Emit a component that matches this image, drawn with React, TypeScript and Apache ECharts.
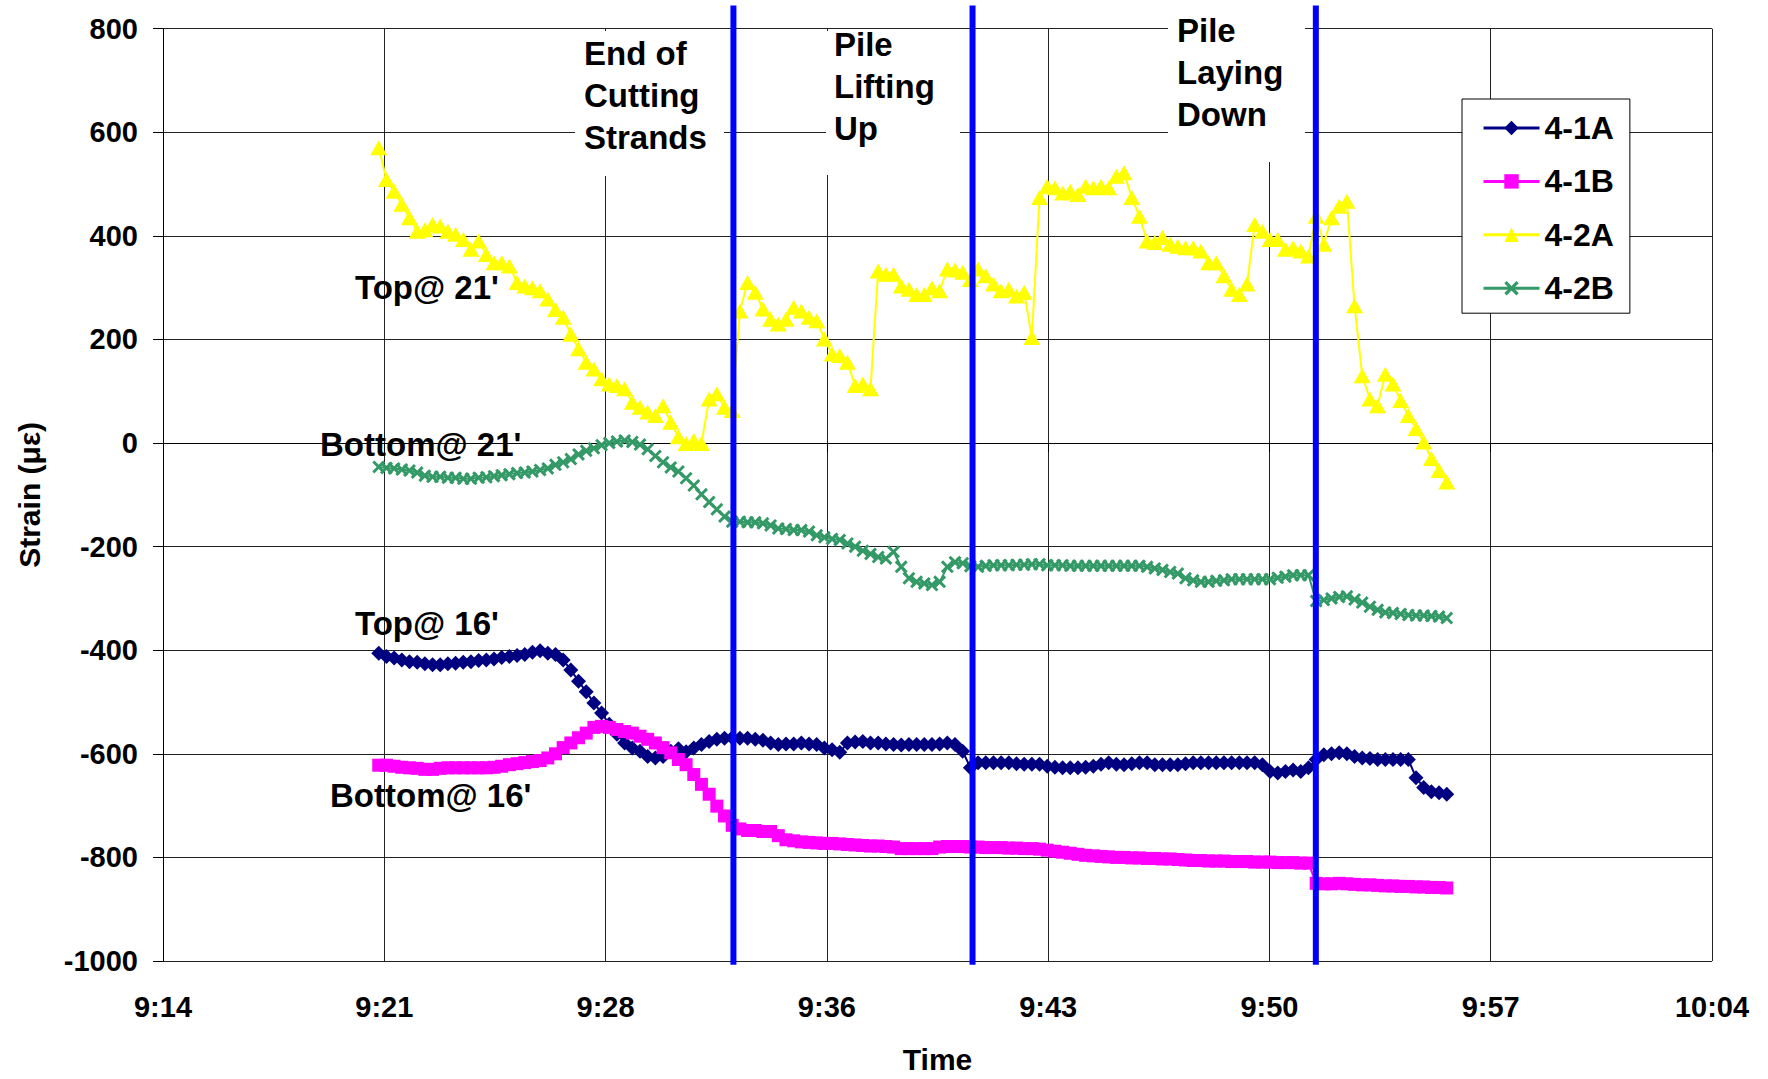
import React, { useEffect, useRef } from "react";
import * as echarts from "echarts";

// Sampling: one reading every 15 s, first reading at about 9:21:25
const START_MIN = 561.42; // minutes after midnight
const STEP_MIN = 0.25;

const seriesNames = ["4-1A", "4-1B", "4-2A", "4-2B"];

// 4-1A  (Top @ 16')
const s41A = [
  -406, -412, -415, -419, -422, -423, -426, -428, -428, -426,
  -425, -423, -422, -420, -419, -417, -414, -412, -410, -408,
  -404, -401, -406, -408, -419, -438, -460, -480, -502, -521,
  -543, -562, -579, -589, -595, -605, -608, -605, -595, -590,
  -596, -589, -582, -576, -572, -570, -569, -570, -570, -572,
  -574, -579, -582, -581, -581, -579, -581, -582, -589, -592,
  -597, -579, -577, -576, -579, -579, -581, -582, -583, -582,
  -582, -582, -582, -581, -579, -582, -595, -627, -617, -617,
  -617, -617, -617, -619, -620, -620, -620, -624, -626, -627,
  -627, -627, -626, -624, -620, -617, -620, -621, -619, -617,
  -617, -621, -621, -621, -621, -619, -617, -617, -617, -617,
  -617, -617, -617, -617, -617, -621, -634, -637, -634, -631,
  -634, -627, -611, -602, -600, -598, -600, -605, -608, -609,
  -611, -611, -611, -611, -611, -646, -665, -673, -675, -678,
];

// 4-1B  (Bottom @ 16')
const s41B = [
  -622, -622, -624, -626, -627, -628, -630, -630, -628, -627,
  -627, -627, -627, -627, -627, -626, -624, -621, -619, -617,
  -615, -613, -608, -600, -588, -579, -569, -560, -549, -547,
  -549, -553, -557, -560, -566, -572, -579, -588, -598, -611,
  -621, -640, -659, -678, -701, -720, -738, -745, -748, -748,
  -750, -750, -758, -766, -768, -770, -771, -772, -773, -773,
  -774, -775, -776, -777, -778, -778, -779, -780, -783, -783,
  -783, -783, -783, -780, -779, -779, -779, -780, -780, -781,
  -781, -781, -782, -782, -783, -783, -784, -786, -788, -790,
  -792, -794, -796, -797, -798, -799, -800, -800, -801, -801,
  -802, -802, -803, -803, -804, -805, -806, -806, -807, -807,
  -807, -808, -808, -808, -809, -809, -809, -810, -810, -810,
  -811, -811, -850, -851, -851, -850, -851, -852, -853, -853,
  -854, -855, -855, -856, -856, -857, -857, -858, -858, -859,
];

// 4-2A  (Top @ 21')
const s42A = [
  570, 509, 486, 461, 435, 409, 412, 422, 419, 409,
  403, 393, 374, 390, 364, 348, 348, 342, 310, 303,
  300, 294, 278, 258, 243, 210, 182, 156, 143, 124,
  114, 111, 105, 79, 69, 60, 53, 72, 40, 12,
  -1, 5, -1, 85, 95, 69, 63, 255, 310, 291,
  259, 239, 230, 239, 262, 255, 243, 236, 201, 172,
  169, 156, 111, 114, 105, 332, 326, 326, 303, 297,
  287, 287, 300, 294, 336, 334, 330, 316, 336, 323,
  307, 294, 297, 284, 291, 204, 474, 496, 493, 483,
  486, 480, 496, 493, 496, 493, 515, 522, 474, 438,
  390, 387, 397, 384, 380, 377, 377, 371, 348, 348,
  323, 297, 287, 307, 422, 409, 393, 393, 374, 377,
  371, 361, 438, 384, 435, 457, 467, 265, 130, 85,
  72, 133, 114, 82, 53, 28, 2, -30, -53, -75,
];

// 4-2B  (Bottom @ 21')
const s42B = [
  -46, -48, -49, -51, -53, -57, -63, -65, -65, -67,
  -67, -69, -69, -67, -66, -64, -62, -60, -58, -57,
  -55, -52, -49, -42, -37, -31, -22, -15, -10, -4,
  0, 3, 5, 2, -3, -12, -25, -37, -47, -55,
  -68, -82, -99, -114, -128, -142, -152, -152, -153, -153,
  -155, -159, -165, -166, -168, -168, -171, -178, -182, -185,
  -187, -194, -200, -208, -214, -220, -223, -210, -239, -261,
  -268, -271, -274, -268, -239, -230, -232, -238, -239, -237,
  -236, -236, -236, -235, -235, -234, -234, -236, -236, -236,
  -237, -237, -237, -237, -237, -237, -237, -237, -237, -237,
  -239, -242, -245, -249, -252, -261, -265, -268, -268, -266,
  -265, -263, -263, -263, -263, -263, -263, -260, -258, -255,
  -255, -255, -305, -303, -300, -297, -296, -302, -308, -316,
  -322, -327, -328, -330, -332, -333, -333, -334, -335, -338,
];

// Event markers (minutes after midnight)
const eventTimes = [572.96, 580.74, 591.91];

// Axis scale
const X_MIN = 554.4;
const X_MAX = 604.8;
const X_INTERVAL = 7.2;
const Y_MIN = -1000;
const Y_MAX = 800;
const Y_INTERVAL = 200;

const FONT = '"Liberation Sans", Arial, Helvetica, sans-serif';

const X_SYMBOL =
  "path://M0,1.6 L1.6,0 L5,3.4 L8.4,0 L10,1.6 L6.6,5 L10,8.4 L8.4,10 L5,6.6 L1.6,10 L0,8.4 L3.4,5 Z";

function fmtTime(v: number): string {
  const t = Math.floor(v + 1e-6);
  const h = Math.floor(t / 60);
  const m = t % 60;
  return `${h}:${m < 10 ? "0" + m : m}`;
}

function pairs(values: number[]): number[][] {
  return values.map((v, i) => [START_MIN + i * STEP_MIN, v]);
}

export default function App() {
  const ref = useRef<HTMLDivElement>(null);

  useEffect(() => {
    if (!ref.current) return;
    const chart = echarts.init(ref.current, null, { renderer: "svg" });

    const seriesStyles = [
      { color: "#000080", symbol: "diamond", size: [15, 15] },
      { color: "#FF00FF", symbol: "rect", size: [13, 13] },
      { color: "#FFFF00", symbol: "triangle", size: [17, 15] },
      { color: "#339966", symbol: X_SYMBOL, size: [13, 13] },
    ];
    const values = [s41A, s41B, s42A, s42B];

    const dataSeries = seriesNames.map((name, k) => ({
      name,
      type: "line",
      data: pairs(values[k]),
      symbol: seriesStyles[k].symbol,
      symbolSize: seriesStyles[k].size,
      showAllSymbol: true,
      lineStyle: { color: seriesStyles[k].color, width: 2 },
      itemStyle: { color: seriesStyles[k].color, borderWidth: 0 },
      z: 2 + k,
      emphasis: { disabled: true },
    }));

    const eventSeries = eventTimes.map((t, k) => ({
      name: "event" + k,
      type: "line",
      data: [
        [t, 845],
        [t, -1007],
      ],
      clip: false,
      symbol: "none",
      lineStyle: { color: "#0000FF", width: 6 },
      z: 10,
      silent: true,
    }));

    const textFont = `bold 33px ${FONT}`;

    const option: any = {
      animation: false,
      backgroundColor: "#ffffff",
      grid: { left: 163, top: 28.7, right: 56, bottom: 114.7, containLabel: false },
      xAxis: {
        type: "value",
        min: X_MIN,
        max: X_MAX,
        interval: X_INTERVAL,
        name: "Time",
        nameLocation: "middle",
        nameGap: 83,
        nameTextStyle: { fontSize: 30, fontWeight: "bold", fontFamily: FONT, color: "#000" },
        axisLine: { lineStyle: { color: "#000", width: 1 } },
        axisTick: { show: true, inside: false, length: 9, lineStyle: { color: "#000" } },
        axisLabel: {
          formatter: fmtTime,
          fontSize: 29,
          fontWeight: "bold",
          fontFamily: FONT,
          color: "#000",
          margin: 31,
          showMinLabel: true,
          showMaxLabel: true,
        },
        splitLine: { show: true, lineStyle: { color: "#222", width: 1 } },
      },
      yAxis: {
        type: "value",
        min: Y_MIN,
        max: Y_MAX,
        interval: Y_INTERVAL,
        name: "Strain (με)",
        nameLocation: "middle",
        nameGap: 119,
        nameTextStyle: { fontSize: 30, fontWeight: "bold", fontFamily: FONT, color: "#000" },
        axisLine: { show: true, lineStyle: { color: "#000", width: 1 } },
        axisTick: { show: true, inside: false, length: 10, lineStyle: { color: "#000" } },
        axisLabel: {
          formatter: (v: number) => String(Math.round(v)),
          fontSize: 29,
          fontWeight: "bold",
          fontFamily: FONT,
          color: "#000",
          margin: 25,
        },
        splitLine: { show: true, lineStyle: { color: "#222", width: 1 } },
      },
      legend: {
        data: seriesNames,
        orient: "vertical",
        left: 1462,
        top: 99,
        padding: [13, 16, 9, 20],
        itemGap: 21.4,
        itemWidth: 56,
        itemHeight: 18,
        backgroundColor: "#ffffff",
        borderColor: "#000",
        borderWidth: 1,
        borderRadius: 0,
        textStyle: {
          fontSize: 32,
          fontWeight: "bold",
          fontFamily: FONT,
          color: "#000",
          lineHeight: 32,
        },
        lineStyle: { width: 3 },
        z: 20,
      },
      graphic: [
        { type: "rect", shape: { x: 575, y: 31, width: 149, height: 145 }, style: { fill: "#fff" }, z: 50 },
        { type: "rect", shape: { x: 826, y: 31, width: 134, height: 144 }, style: { fill: "#fff" }, z: 50 },
        { type: "rect", shape: { x: 1168, y: 0, width: 137, height: 162 }, style: { fill: "#fff" }, z: 50 },
        {
          type: "text",
          x: 584,
          y: 33,
          z: 51,
          style: { text: "End of\nCutting\nStrands", font: textFont, fill: "#000", lineHeight: 41.8, verticalAlign: "top" },
        },
        {
          type: "text",
          x: 834,
          y: 24,
          z: 51,
          style: { text: "Pile\nLifting\nUp", font: textFont, fill: "#000", lineHeight: 41.8, verticalAlign: "top" },
        },
        {
          type: "text",
          x: 1177,
          y: 9.5,
          z: 51,
          style: { text: "Pile\nLaying\nDown", font: textFont, fill: "#000", lineHeight: 41.8, verticalAlign: "top" },
        },
        {
          type: "text",
          x: 355,
          y: 287.5,
          z: 51,
          style: { text: "Top@ 21'", font: textFont, fill: "#000", verticalAlign: "middle" },
        },
        {
          type: "text",
          x: 320,
          y: 444.3,
          z: 51,
          style: { text: "Bottom@ 21'", font: textFont, fill: "#000", verticalAlign: "middle" },
        },
        {
          type: "text",
          x: 355,
          y: 623.5,
          z: 51,
          style: { text: "Top@ 16'", font: textFont, fill: "#000", verticalAlign: "middle" },
        },
        {
          type: "text",
          x: 330,
          y: 795,
          z: 51,
          style: { text: "Bottom@ 16'", font: textFont, fill: "#000", verticalAlign: "middle" },
        },
      ],
      series: [...dataSeries, ...eventSeries],
    };

    chart.setOption(option);
    return () => {
      chart.dispose();
    };
  }, []);

  return (
    <div
      ref={ref}
      style={{ position: "fixed", left: 0, top: 0, width: 1768, height: 1079, background: "#fff" }}
    />
  );
}
